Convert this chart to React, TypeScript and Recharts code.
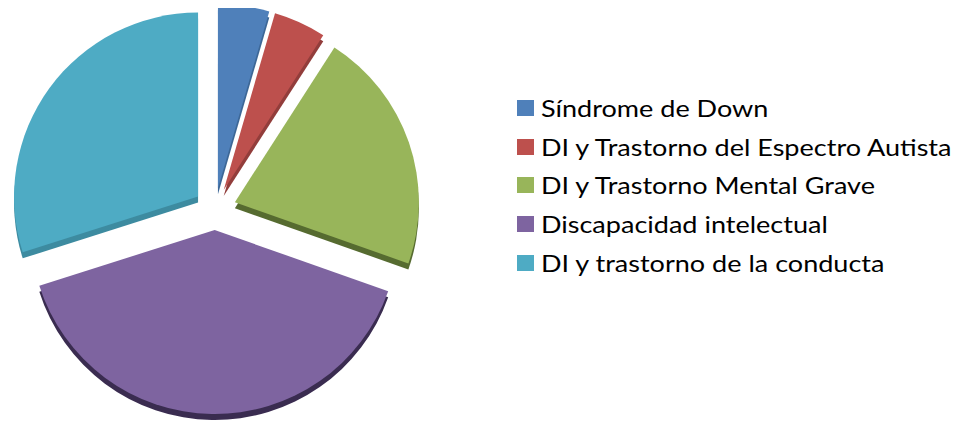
import React from 'react';
import { PieChart, Pie, Cell, Sector, Legend } from 'recharts';

const categories = [
  'Síndrome de Down',
  'DI y Trastorno del Espectro Autista',
  'DI y Trastorno Mental Grave',
  'Discapacidad intelectual',
  'DI y trastorno de la conducta',
];
const values = [4.5, 4.6, 21.3, 39.7, 29.9];
const colors = ['#4f80ba', '#bd504d', '#98b55a', '#7e64a0', '#4eabc4'];
const sideColors = ['#3d6796', '#923d3b', '#566b30', '#3a2c50', '#3d8ba0'];

const data = categories.map((name, i) => ({ name, value: values[i] }));

const RAD = Math.PI / 180;
const EXPLODE = 21;

// push every slice outward along its mid angle
const explodedSlice = (props: any) => {
  const { cx, cy, midAngle, innerRadius, outerRadius, startAngle, endAngle, fill } = props;
  const dx = Math.cos(-midAngle * RAD) * EXPLODE;
  const dy = Math.sin(-midAngle * RAD) * EXPLODE;
  return (
    <Sector
      cx={cx + dx}
      cy={cy + dy}
      innerRadius={innerRadius}
      outerRadius={outerRadius}
      startAngle={startAngle}
      endAngle={endAngle}
      fill={fill}
      stroke="none"
    />
  );
};

// legend keeps the series order of the data, not the sorted payload
const renderLegend = () => (
  <div style={{ fontFamily: 'Lato, sans-serif', fontSize: 23, color: '#000' }}>
    {categories.map((name, i) => (
      <div key={name} style={{ display: 'flex', alignItems: 'center', height: 38.8 }}>
        <span style={{ width: 17, height: 16, background: colors[i], marginRight: 7, flexShrink: 0 }} />
        <span style={{ display: 'inline-block', whiteSpace: 'nowrap', transform: 'scaleX(1.175)', transformOrigin: 'left center' }}>
          {name}
        </span>
      </div>
    ))}
  </div>
);

export default function App() {
  return (
    <PieChart width={952} height={417} margin={{ top: 0, right: 0, bottom: 0, left: 0 }}>
      {/* darker copy underneath gives the 3D rim */}
      <Pie
        data={data}
        dataKey="value"
        nameKey="name"
        cx={207}
        cy={207}
        outerRadius={184}
        startAngle={90}
        endAngle={-270}
        legendType="none"
        shape={explodedSlice}
        isAnimationActive={false}
      >
        {data.map((d, i) => (
          <Cell key={d.name} fill={sideColors[i]} />
        ))}
      </Pie>
      <Pie
        data={data}
        dataKey="value"
        nameKey="name"
        cx={207}
        cy={201}
        outerRadius={184}
        startAngle={90}
        endAngle={-270}
        legendType="square"
        shape={explodedSlice}
        isAnimationActive={false}
      >
        {data.map((d, i) => (
          <Cell key={d.name} fill={colors[i]} />
        ))}
      </Pie>
      <Legend
        layout="horizontal"
        verticalAlign="middle"
        align="center"
        content={renderLegend}
        wrapperStyle={{ left: 509, top: 80.5, width: 445 }}
      />
    </PieChart>
  );
}
